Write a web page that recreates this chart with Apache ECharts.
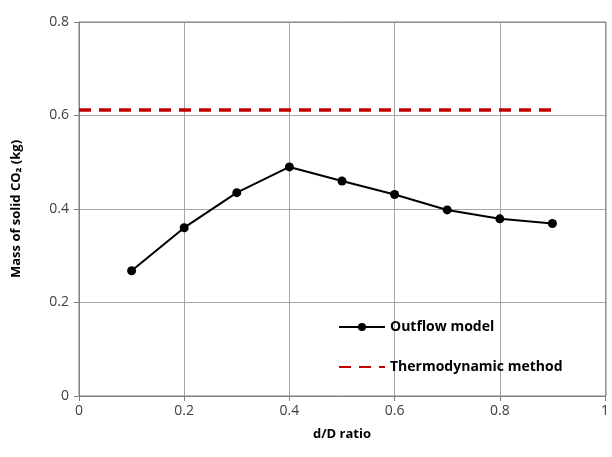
<!DOCTYPE html>
<html>
<head>
<meta charset="UTF-8">
<title>Solid CO2 mass</title>
<script src="https://cdn.jsdelivr.net/npm/echarts@6/dist/echarts.min.js"></script>
</head>
<body style="margin:0;background:#fff;">
	<div id="container" style="width:612px;height:457px;"></div>
	<script type="text/javascript">
	var ratios = [0.1, 0.2, 0.3, 0.4, 0.5, 0.6, 0.7, 0.8, 0.9];
	var outflow = [0.268, 0.360, 0.435, 0.490, 0.460, 0.431, 0.398, 0.379, 0.369];
	var thermoX = [0, 0.9];
	var thermoY = [0.612, 0.612];

	var outflowData = [];
	for (var i = 0; i < ratios.length; i++) {
		outflowData.push([ratios[i], outflow[i]]);
	}
	var thermoData = [];
	for (var j = 0; j < thermoX.length; j++) {
		thermoData.push([thermoX[j], thermoY[j]]);
	}

	var font = 'Open Sans';
	var myChart = echarts.init(document.getElementById('container'));
	var option = {
		animation: false,
		backgroundColor: '#fff',
		grid: { left: 79, right: 6, top: 22, bottom: 61 },
		legend: {
			orient: 'vertical',
			left: 333,
			top: 315,
			itemWidth: 46,
			itemHeight: 10,
			itemGap: 26,
			textStyle: { fontFamily: font, fontWeight: 'bold', fontSize: 14, color: '#000' },
			data: [
				{ name: 'Outflow model' },
				{ name: 'Thermodynamic method', itemStyle: { opacity: 0 } }
			]
		},
		xAxis: {
			type: 'value',
			min: 0, max: 1, interval: 0.2,
			name: 'd/D ratio',
			nameLocation: 'middle',
			nameGap: 32,
			nameTextStyle: { fontFamily: font, fontWeight: 'bold', fontSize: 13, color: '#000' },
			axisLine: { show: true, onZero: false, lineStyle: { color: '#808080' } },
			axisTick: { show: true, length: 5, lineStyle: { color: '#808080' } },
			axisLabel: { fontFamily: font, fontSize: 14, color: '#404040', margin: 8 },
			splitLine: { show: true, lineStyle: { color: '#a6a6a6' } }
		},
		yAxis: {
			type: 'value',
			min: 0, max: 0.8, interval: 0.2,
			name: 'Mass of solid CO\u2082 (kg)',
			nameLocation: 'middle',
			nameGap: 56,
			nameTextStyle: { fontFamily: font, fontWeight: 'bold', fontSize: 13, color: '#000' },
			axisLine: { show: true, lineStyle: { color: '#808080' } },
			axisTick: { show: true, length: 5, lineStyle: { color: '#808080' } },
			axisLabel: { fontFamily: font, fontSize: 14, color: '#404040', margin: 10,
				formatter: function (v) { return v === 0 ? '0' : v.toFixed(1); } },
			splitLine: { show: true, lineStyle: { color: '#a6a6a6' } }
		},
		series: [
			{
				name: 'Outflow model',
				type: 'line',
				data: outflowData,
				symbol: 'circle',
				symbolSize: 9,
				itemStyle: { color: '#000' },
				lineStyle: { color: '#000', width: 2 }
			},
			{
				name: 'Thermodynamic method',
				type: 'line',
				data: thermoData,
				symbol: 'none',
				itemStyle: { color: '#c00000' },
				lineStyle: { color: '#c00000', width: 3.5, type: [12, 8] }
			}
		]
	};
	myChart.setOption(option, true);

	// plot border on top and right
	myChart.setOption({
		graphic: [{
			type: 'rect',
			shape: { x: 79, y: 22, width: 527, height: 374 },
			style: { fill: 'none', stroke: '#808080', lineWidth: 1 },
			silent: true
		}]
	});
	</script>
</body>
</html>
